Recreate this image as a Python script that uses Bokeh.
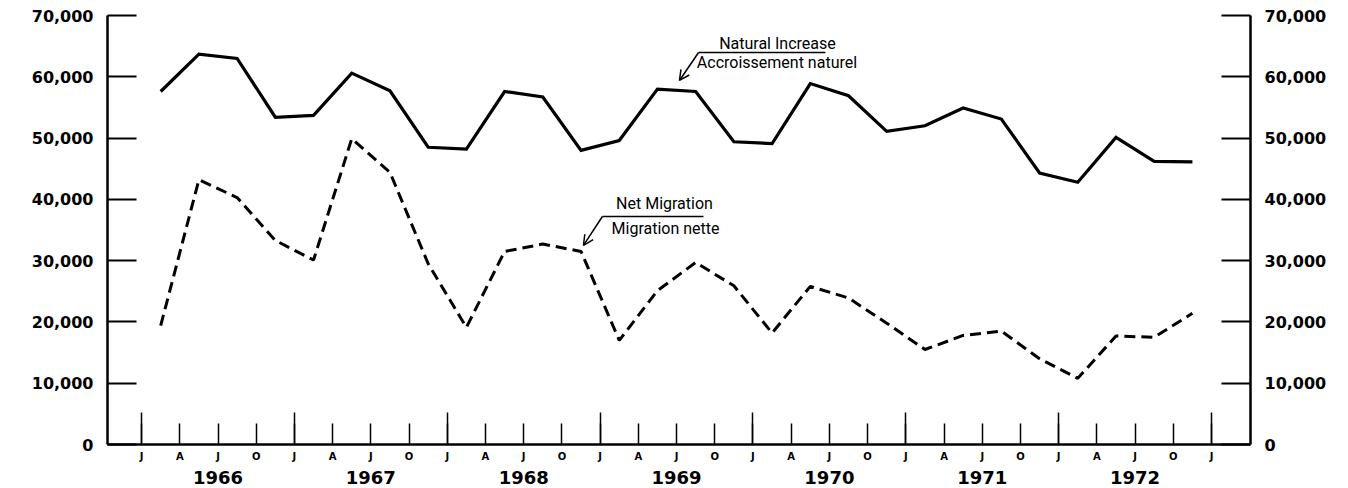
from bokeh.plotting import figure
from bokeh.models import (FixedTicker, LinearAxis, NumeralTickFormatter, Range1d,
                          Label, Arrow, OpenHead)
from bokeh.embed import file_html
from bokeh.resources import INLINE

# ---- data ----
years = [1966, 1967, 1968, 1969, 1970, 1971, 1972]
quarter_letters = ["J", "A", "J", "O"]

natural_increase = [
    57600, 63700, 63000, 53400,
    53700, 60600, 57700, 48500,
    48200, 57600, 56700, 48000,
    49600, 58000, 57600, 49400,
    49100, 58900, 56900, 51100,
    52000, 54900, 53100, 44300,
    42800, 50100, 46200, 46100,
]
net_migration = [
    19400, 43200, 40300, 33300,
    30100, 49900, 44400, 29500,
    19100, 31500, 32700, 31500,
    17000, 25100, 29700, 25900,
    18200, 25800, 23900, 19800,
    15500, 17800, 18500, 14000,
    10800, 17700, 17500, 21400,
]
y_ticks = [0, 10000, 20000, 30000, 40000, 50000, 60000, 70000]

# quarter mid-points as decimal years
xs = [y + q * 0.25 + 0.125 for y in years for q in range(4)]
q_ticks = [y + q * 0.25 for y in years for q in range(4)] + [years[-1] + 1]
jan_ticks = [float(y) for y in years] + [float(years[-1] + 1)]
q_labels = {t: quarter_letters[i % 4] for i, t in enumerate(q_ticks)}
year_ticks = [y + 0.5 for y in years]
year_labels = {y + 0.5: str(y) for y in years}

FONT = "DejaVu Sans"

p = figure(width=1348, height=488, output_backend="svg", toolbar_location=None,
           x_range=Range1d(1965.777, 1973.255), y_range=Range1d(0, 70000),
           min_border_left=107, min_border_right=98, min_border_top=15,
           min_border_bottom=44, x_axis_location=None, y_axis_location=None)
p.outline_line_color = None
p.xgrid.grid_line_color = None
p.ygrid.grid_line_color = None
p.background_fill_color = "white"
p.border_fill_color = "white"

# x axis: quarter letters
xq = LinearAxis(ticker=FixedTicker(ticks=q_ticks, minor_ticks=jan_ticks),
                major_label_overrides=q_labels)
xq.axis_line_width = 2.5
xq.axis_line_color = "black"
xq.major_tick_in = 21
xq.major_tick_out = 0
xq.minor_tick_in = 32
xq.minor_tick_out = 0
xq.major_tick_line_width = 1.5
xq.minor_tick_line_width = 1.5
xq.major_label_text_font = FONT
xq.major_label_text_font_style = "bold"
xq.major_label_text_font_size = "10px"
xq.major_label_standoff = 6
xq.major_label_text_color = "black"
p.add_layout(xq, "below")

# x axis: years
xy = LinearAxis(ticker=FixedTicker(ticks=year_ticks, minor_ticks=[]),
                major_label_overrides=year_labels)
xy.axis_line_color = None
xy.major_tick_line_color = None
xy.minor_tick_line_color = None
xy.major_label_text_font = FONT
xy.major_label_text_font_style = "bold"
xy.major_label_text_font_size = "18px"
xy.major_label_standoff = 0
xy.major_label_text_color = "black"
p.add_layout(xy, "below")

# y axes left and right
for side in ("left", "right"):
    ax = LinearAxis(ticker=FixedTicker(ticks=y_ticks, minor_ticks=[]),
                    formatter=NumeralTickFormatter(format="0,0"))
    ax.axis_line_width = 2.5
    ax.axis_line_color = "black"
    ax.major_tick_in = 29
    ax.major_tick_out = 0
    ax.major_tick_line_width = 2
    ax.minor_tick_line_color = None
    ax.major_label_text_font = FONT
    ax.major_label_text_font_style = "bold"
    ax.major_label_text_font_size = "16px"
    ax.major_label_standoff = 14
    ax.major_label_text_color = "black"
    p.add_layout(ax, side)

# series
p.line(xs, natural_increase, line_color="black", line_width=3.2, line_join="miter")
p.line(xs, net_migration, line_color="black", line_width=3.0, line_dash="11 6")

# annotations
ANN_FONT = "Roboto"
def add_label(x, y, txt):
    p.add_layout(Label(x=x, y=y, text=txt, text_font=ANN_FONT, text_font_size="16px",
                       text_align="center", text_baseline="middle", text_color="black"))

add_label(1970.16, 65400, "Natural Increase")
add_label(1970.157, 62300, "Accroissement naturel")
p.add_layout(Arrow(end=None, x_start=1969.644, y_start=63960, x_end=1970.474, y_end=63960,
                   line_color="black", line_width=1.5))
p.add_layout(Arrow(end=OpenHead(size=10, line_width=1.5, line_color="black"),
                   x_start=1969.644, y_start=63960, x_end=1969.519, y_end=59400,
                   line_color="black", line_width=1.5))

add_label(1969.421, 39300, "Net Migration")
add_label(1969.428, 35200, "Migration nette")
p.add_layout(Arrow(end=None, x_start=1969.015, y_start=37200, x_end=1969.676, y_end=37200,
                   line_color="black", line_width=1.5))
p.add_layout(Arrow(end=OpenHead(size=10, line_width=1.5, line_color="black"),
                   x_start=1969.015, y_start=37200, x_end=1968.891, y_end=32500,
                   line_color="black", line_width=1.5))

open("out.html", "w").write(file_html(p, INLINE))
